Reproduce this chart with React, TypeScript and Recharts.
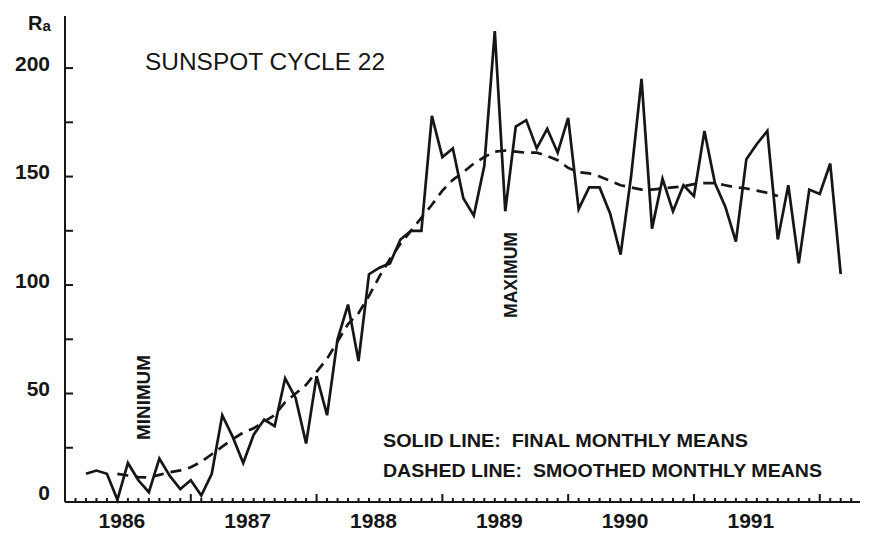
import { LineChart, Line, XAxis, YAxis } from "recharts";

const INK = "#161616";
const FONT = "'Liberation Sans', Arial, sans-serif";

// monthly means from March 1986 to March 1992
const FIRST_MONTH = 2; // months after Jan 1986
const finalMeans = [
  13, 14.5, 13, 1, 18, 10, 4.5, 20, 12, 6, 10, 3,
  13, 40, 30, 18, 31, 38, 35, 57, 48, 27, 58, 40,
  75, 91, 65, 105, 108, 110, 121, 125, 125, 178, 159, 163,
  140, 132, 155, 217, 134, 173, 176, 163, 172, 161, 177, 135,
  145, 145, 133, 114, 150, 195, 126, 149, 134, 146, 141, 171,
  147, 136, 120, 158, 165, 171, 121, 146, 110, 144, 142, 156,
  105,
];

// smoothed means, first value at June 1986 (index 3 above)
const SMOOTH_START = 3;
const smoothedMeans = [
  13, 12.2, 11.5, 11.3, 12.5, 13.7, 14.6, 16, 18.6,
  22, 25.5, 29, 32, 34, 37, 40, 46, 50, 54, 60, 66,
  74, 82, 87, 95, 104, 112, 119, 125, 131, 137, 143.5, 148.5,
  152, 156, 159, 161.5, 162, 161.5, 161, 161, 159.5, 157.5, 154, 152,
  151.5, 150, 148, 146, 145, 144, 144, 144.5, 145, 145.5, 146.5, 147,
  147, 146, 145, 144.5, 143.5, 142.5, 141,
];

const yearLabels = [1986, 1987, 1988, 1989, 1990, 1991];
const yTicks = [0, 25, 50, 75, 100, 125, 150, 175, 200];
const yLabelStep = 50;
const X_DOMAIN = [1986, 1992.32];
const monthTicks = Array.from({ length: 76 }, (_, i) => 1986 + i / 12);

const data = finalMeans.map((v, i) => {
  const s = i - SMOOTH_START;
  return {
    t: 1986 + (i + FIRST_MONTH) / 12,
    final: v,
    smooth: s >= 0 && s < smoothedMeans.length ? smoothedMeans[s] : null,
  };
});

const monthOf = (v: number) => Math.round((v - 1986) * 12);

const BottomTick = (props: any) => {
  const { x, y, payload } = props;
  const m = monthOf(payload.value);
  const major = m % 12 === 0;
  const label = m % 12 === 6 ? yearLabels[Math.floor(m / 12)] : null;
  return (
    <g>
      <line x1={x} x2={x} y1={y} y2={y - (major ? 8 : 4)} stroke={INK} strokeWidth={2} />
      {label && (
        <text x={x - 6} y={y + 26} textAnchor="middle" fontFamily={FONT} fontSize={21} fontWeight="bold" fill={INK}>
          {label}
        </text>
      )}
    </g>
  );
};

const TopTick = (props: any) => {
  const { x, y, payload } = props;
  const major = monthOf(payload.value) % 12 === 0;
  return <line x1={x} x2={x} y1={y} y2={y + (major ? 8 : 4)} stroke={INK} strokeWidth={2} />;
};

const LeftTick = (props: any) => {
  const { x, y, payload } = props;
  // the scan's labels sit a little above their ticks
  const lift = payload.value === 0 ? 10 : 5;
  return (
    <g>
      <line x1={x} x2={x + 8} y1={y} y2={y} stroke={INK} strokeWidth={2} />
      {payload.value % yLabelStep === 0 && (
        <text x={x - 15} y={y - lift} dy="0.36em" textAnchor="end" fontFamily={FONT} fontSize={21} fontWeight="bold" fill={INK}>
          {payload.value}
        </text>
      )}
    </g>
  );
};

const RightTick = (props: any) => {
  const { x, y } = props;
  return <line x1={x} x2={x - 8} y1={y} y2={y} stroke={INK} strokeWidth={2} />;
};

export default function App() {
  const axisLine = { stroke: INK, strokeWidth: 2 };
  return (
    <div style={{ position: "relative", width: 856, height: 528, background: "#fff" }}>
      <LineChart width={856} height={528} data={data} margin={{ top: 8, right: 4, bottom: 0, left: 0 }}>
        <XAxis
          dataKey="t"
          type="number"
          domain={X_DOMAIN}
          ticks={monthTicks}
          interval={0}
          height={34}
          axisLine={axisLine}
          tickLine={false}
          tickSize={0}
          tickMargin={0}
          tick={<BottomTick />}
        />
        <XAxis
          xAxisId="top"
          orientation="top"
          type="number"
          domain={X_DOMAIN}
          ticks={monthTicks}
          interval={0}
          height={0}
          axisLine={axisLine}
          tickLine={false}
          tickSize={0}
          tickMargin={0}
          tick={<TopTick />}
        />
        <YAxis
          type="number"
          domain={[0, 224]}
          ticks={yTicks}
          interval={0}
          width={57}
          axisLine={axisLine}
          tickLine={false}
          tickSize={0}
          tickMargin={0}
          tick={<LeftTick />}
        />
        <YAxis
          yAxisId="right"
          orientation="right"
          type="number"
          domain={[0, 224]}
          ticks={yTicks}
          interval={0}
          width={0}
          axisLine={axisLine}
          tickLine={false}
          tickSize={0}
          tickMargin={0}
          tick={<RightTick />}
        />
        <Line
          dataKey="smooth"
          stroke={INK}
          strokeWidth={2.7}
          strokeDasharray="11 7"
          dot={false}
          type="linear"
          isAnimationActive={false}
        />
        <Line
          dataKey="final"
          stroke={INK}
          strokeWidth={2.7}
          strokeLinejoin="miter"
          dot={false}
          type="linear"
          isAnimationActive={false}
        />
      </LineChart>
      <svg
        width={856}
        height={528}
        style={{ position: "absolute", left: 0, top: 0, pointerEvents: "none" }}
        fontFamily={FONT}
        fill={INK}
      >
        <text x={20} y={22} fontSize={20} fontWeight="bold">
          R<tspan fontSize={15} dy={1}>a</tspan>
        </text>
        <text x={137} y={62} fontSize={23} textLength={240} lengthAdjust="spacingAndGlyphs">
          SUNSPOT CYCLE 22
        </text>
        <text
          x={135.5}
          y={389.5}
          transform="rotate(-90 135.5 389.5)"
          textAnchor="middle"
          dy="0.36em"
          fontSize={18}
          fontWeight="bold"
          textLength={85}
          lengthAdjust="spacingAndGlyphs"
        >
          MINIMUM
        </text>
        <text
          x={503}
          y={267}
          transform="rotate(-90 503 267)"
          textAnchor="middle"
          dy="0.36em"
          fontSize={18}
          fontWeight="bold"
          textLength={86}
          lengthAdjust="spacingAndGlyphs"
        >
          MAXIMUM
        </text>
        <text x={375} y={439} fontSize={19} fontWeight="bold" textLength={365} lengthAdjust="spacingAndGlyphs" style={{ whiteSpace: "pre" }}>
          SOLID LINE:  FINAL MONTHLY MEANS
        </text>
        <text x={375} y={469} fontSize={19} fontWeight="bold" textLength={439} lengthAdjust="spacingAndGlyphs" style={{ whiteSpace: "pre" }}>
          DASHED LINE:  SMOOTHED MONTHLY MEANS
        </text>
      </svg>
    </div>
  );
}
